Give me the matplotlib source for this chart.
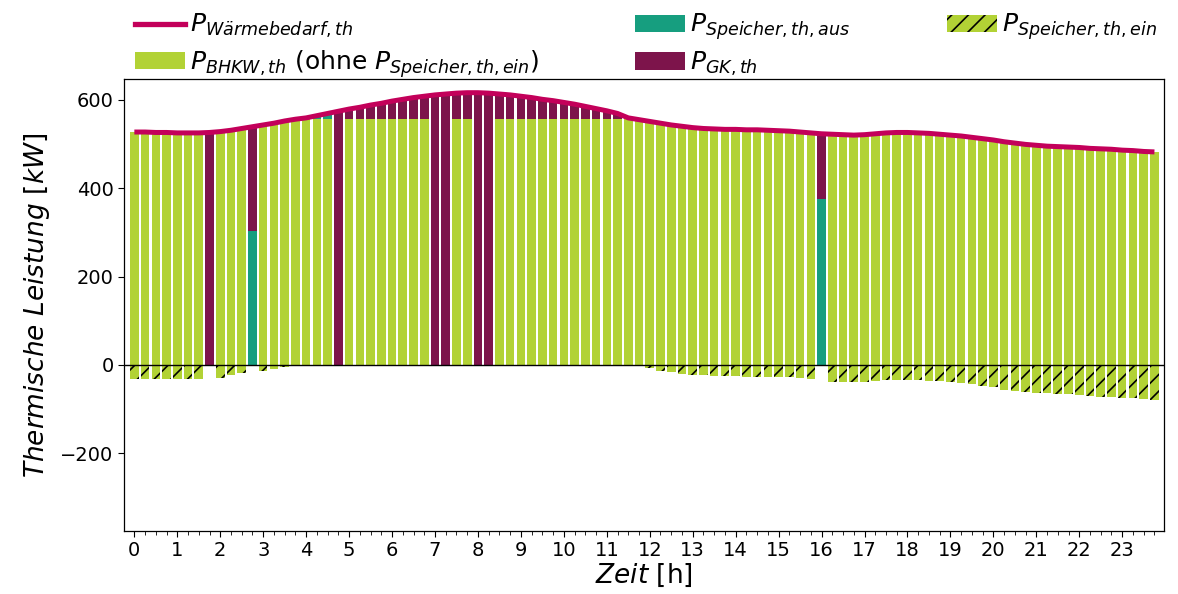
import numpy as np
import matplotlib
matplotlib.use("Agg")
import matplotlib.pyplot as plt
from matplotlib.patches import Patch
from matplotlib.lines import Line2D
from matplotlib.ticker import MultipleLocator

# time axis: quarter hours
hours = np.arange(96) * 0.25
hour_ticks = list(range(24))

# heat demand [kW]
demand = [527, 527, 526, 526, 525, 525, 525, 526,
          528, 531, 535, 539, 543, 547, 552, 556,
          559, 564, 569, 574, 579, 583, 588, 592,
          597, 601, 605, 608, 611, 613, 615, 616,
          616, 615, 613, 611, 608, 605, 601, 598,
          594, 590, 585, 580, 575, 569, 559, 555,
          551, 547, 543, 540, 537, 535, 534, 533,
          533, 532, 532, 531, 530, 529, 527, 525,
          523, 522, 521, 520, 521, 523, 525, 526,
          526, 525, 524, 522, 520, 518, 515, 512,
          509, 505, 502, 499, 497, 495, 494, 493,
          492, 490, 489, 488, 486, 485, 483, 482]

# CHP heat (without storage charging) [kW]
bhkw = [527, 527, 526, 526, 525, 525, 525, 0,
        528, 531, 535, 0, 543, 547, 552, 556,
        559, 557, 557, 0, 557, 557, 557, 557,
        557, 557, 557, 557, 0, 0, 557, 557,
        0, 0, 557, 557, 557, 557, 557, 557,
        557, 557, 557, 557, 557, 557, 559, 555,
        551, 547, 543, 540, 537, 535, 534, 533,
        533, 532, 532, 531, 530, 529, 527, 525,
        0, 522, 521, 520, 521, 523, 525, 526,
        526, 525, 524, 522, 520, 518, 515, 512,
        509, 505, 502, 499, 497, 495, 494, 493,
        492, 490, 489, 488, 486, 485, 483, 482]

# storage discharge [kW]
speicher_aus = [0, 0, 0, 0, 0, 0, 0, 0,
                0, 0, 0, 302, 0, 0, 0, 0,
                0, 7, 12, 0, 0, 0, 0, 0,
                0, 0, 0, 0, 0, 0, 0, 0,
                0, 0, 0, 0, 0, 0, 0, 0,
                0, 0, 0, 0, 0, 0, 0, 0,
                0, 0, 0, 0, 0, 0, 0, 0,
                0, 0, 0, 0, 0, 0, 0, 0,
                375, 0, 0, 0, 0, 0, 0, 0,
                0, 0, 0, 0, 0, 0, 0, 0,
                0, 0, 0, 0, 0, 0, 0, 0,
                0, 0, 0, 0, 0, 0, 0, 0]

# gas boiler heat [kW]
gk = [0, 0, 0, 0, 0, 0, 0, 526,
      0, 0, 0, 237, 0, 0, 0, 0,
      0, 0, 0, 574, 22, 26, 31, 35,
      40, 44, 48, 51, 611, 613, 58, 59,
      616, 615, 56, 54, 51, 48, 44, 41,
      37, 33, 28, 23, 18, 12, 0, 0,
      0, 0, 0, 0, 0, 0, 0, 0,
      0, 0, 0, 0, 0, 0, 0, 0,
      148, 0, 0, 0, 0, 0, 0, 0,
      0, 0, 0, 0, 0, 0, 0, 0,
      0, 0, 0, 0, 0, 0, 0, 0,
      0, 0, 0, 0, 0, 0, 0, 0]

# storage charging [kW] (drawn negative)
speicher_ein = [-32, -32, -32, -32, -32, -32, -32, 0,
                -29, -23, -19, 0, -13, -9, -4, 0,
                0, 0, 0, 0, 0, 0, 0, 0,
                0, 0, 0, 0, 0, 0, 0, 0,
                0, 0, 0, 0, 0, 0, 0, 0,
                0, 0, 0, 0, 0, 0, 0, 0,
                -8, -13, -17, -20, -23, -24, -25, -25,
                -26, -27, -27, -27, -27, -28, -29, -32,
                0, -38, -39, -39, -39, -37, -35, -34,
                -34, -35, -36, -37, -39, -40, -44, -48,
                -51, -57, -60, -62, -64, -64, -65, -66,
                -68, -70, -72, -73, -74, -76, -77, -79]

labels = [r'$P_{Wärmebedarf,th}$',
          r'$P_{BHKW,th}$ (ohne $P_{Speicher,th,ein}$)',
          r'$P_{Speicher,th,aus}$',
          r'$P_{GK,th}$',
          r'$P_{Speicher,th,ein}$']

c_green = '#B2D235'
c_teal = '#169E7F'
c_maroon = '#7D144B'
c_line = '#C3005A'

plt.rcParams['hatch.linewidth'] = 1.2

fig = plt.figure(figsize=(11.78, 5.94), dpi=100)
ax = fig.add_axes([0.1053, 0.106, 0.8827, 0.761])

x = np.array(hours)
b = np.array(bhkw, dtype=float)
a = np.array(speicher_aus, dtype=float)
g = np.array(gk, dtype=float)
w = 0.2
ax.bar(x, b, width=w, color=c_green, linewidth=0)
ax.bar(x, a, width=w, bottom=b, color=c_teal, linewidth=0)
ax.bar(x, g, width=w, bottom=b + a, color=c_maroon, linewidth=0)
ax.bar(x, speicher_ein, width=w, color=c_green, edgecolor='black',
       linewidth=0, hatch='//')
ax.axhline(0, color='black', linewidth=1.0)
ax.plot(x, demand, color=c_line, linewidth=3.6, solid_capstyle='butt')

ax.set_xlim(-0.24, 23.97)
ax.set_ylim(-376, 647)
ax.set_xticks(hour_ticks)
ax.set_xticklabels([str(h) for h in hour_ticks])
ax.xaxis.set_minor_locator(MultipleLocator(0.25))
ax.set_yticks([-200, 0, 200, 400, 600])
ax.tick_params(axis='both', which='major', labelsize=14, length=4)
ax.tick_params(axis='x', which='minor', length=3)
for s in ax.spines.values():
    s.set_linewidth(0.9)

ax.set_ylabel(r'$Thermische\ Leistung\ [kW]$', fontsize=19, labelpad=6)
ax.set_xlabel(r'$Zeit$ [h]', fontsize=19, labelpad=1)

handles = [Line2D([0], [0], color=c_line, linewidth=3.8),
           Patch(facecolor=c_green, linewidth=0),
           Patch(facecolor=c_teal, linewidth=0),
           Patch(facecolor=c_maroon, linewidth=0),
           Patch(facecolor=c_green, edgecolor='black', linewidth=0, hatch='//')]
fig.legend(handles, labels, loc='upper left', bbox_to_anchor=(0.106, 0.997),
           ncol=3, frameon=False, fontsize=18, handlelength=2.0,
           handletextpad=0.2, columnspacing=3.85, labelspacing=0.3,
           borderaxespad=0.0)

fig.savefig('out.png', dpi=100)
